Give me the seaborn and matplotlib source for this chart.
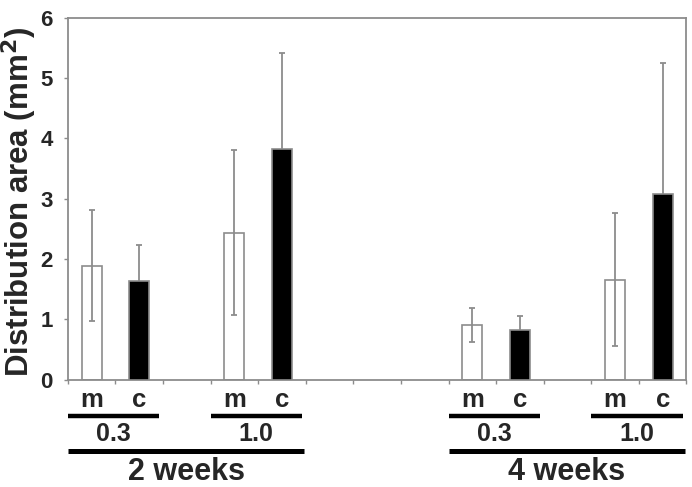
import numpy as np
import pandas as pd
import seaborn as sns
from matplotlib import pyplot as plt
from matplotlib import transforms

# Values (mean and upper error, mm^2)
weeks = ["2 weeks", "4 weeks"]
doses = ["0.3", "1.0"]
kinds = ["m", "c"]
means = [1.89, 1.63, 2.44, 3.83, 0.91, 0.83, 1.66, 3.07]
errs = [0.92, 0.60, 1.36, 1.59, 0.28, 0.23, 1.10, 2.17]

sns.set_theme(style="white")
plt.rcParams['font.family'] = ['Liberation Sans', 'DejaVu Sans']
plt.rcParams['font.weight'] = 'bold'

rows = []
order = []
for wi, w in enumerate(weeks):
    for di, d in enumerate(doses):
        for k in kinds:
            rows.append({"slot": f"{w}|{d}|{k}", "kind": k})
            order.append(f"{w}|{d}|{k}")
        if di < len(doses) - 1:
            order.append(f"gap-{w}-{d}")
    if wi < len(weeks) - 1:
        order += [f"sep-{w}-{i}" for i in range(3)]
df = pd.DataFrame(rows)
df["area"] = means
df["err"] = errs

edge = "#8c8c8c"
fig = plt.figure(figsize=(6.92, 4.87), dpi=100)
ax = fig.add_axes([0.098, 0.22, 0.894, 0.744])

sns.barplot(
    data=df, x="slot", y="area", hue="kind", order=order,
    palette={"m": "white", "c": "black"}, dodge=False, width=0.42,
    errorbar=None, legend=False, edgecolor=edge, linewidth=1.2,
    ax=ax, zorder=3,
)
# m bars hollow so the error line shows through them
for p in ax.patches:
    if p.get_facecolor()[0] > 0.5:
        p.set_facecolor((1, 1, 1, 0))

xpos = [order.index(s) for s in df["slot"]]
ax.errorbar(xpos, df["area"], yerr=df["err"], fmt="none", ecolor=edge,
            elinewidth=1.3, capsize=2, capthick=1.3, zorder=2)

ax.set_xlim(-0.5, len(order) - 0.5)
ax.set_ylim(0, 6)
ax.set_xticks(np.arange(-0.5, len(order)))
ax.set_xticklabels([])
ax.set_yticks(range(7))
ax.tick_params(axis="both", direction="out", length=3, width=1,
               color=edge, bottom=True, left=True)
ax.tick_params(axis="y", labelsize=16, pad=8)
for lbl in ax.get_yticklabels():
    lbl.set_fontweight("bold")
for s in ax.spines.values():
    s.set_color(edge)
    s.set_linewidth(1.3)
ax.set_xlabel("")
ax.set_ylabel("Distribution area (mm$^\\mathbf{2}$)", fontsize=22.5,
              fontweight="bold")
ax.yaxis.set_label_coords(-0.046, 0.49)

# group labels beneath the axis
trans = transforms.blended_transform_factory(ax.transData, ax.transAxes)
for w in weeks:
    first = None
    last = None
    for d in doses:
        a = order.index(f"{w}|{d}|m")
        b = order.index(f"{w}|{d}|c")
        for k, xi in zip(kinds, (a, b)):
            ax.text(xi, -0.055, k, transform=trans, ha="center", va="center",
                    fontsize=18.5, fontweight="bold")
        x0, x1 = a - 0.5, b + 0.42
        ax.plot([x0, x1], [-0.10, -0.10], transform=trans, color="black",
                lw=3.2, solid_capstyle="butt", clip_on=False)
        ax.text((x0 + x1) / 2, -0.15, d, transform=trans, ha="center",
                va="center", fontsize=18, fontweight="bold")
        first = x0 if first is None else first
        last = x1 + 0.05
    ax.plot([first, last], [-0.195, -0.195], transform=trans, color="black",
            lw=3.6, solid_capstyle="butt", clip_on=False)
    ax.text((first + last) / 2, -0.255, w, transform=trans, ha="center",
            va="center", fontsize=22, fontweight="bold")

fig.savefig("out.png", dpi=100)
